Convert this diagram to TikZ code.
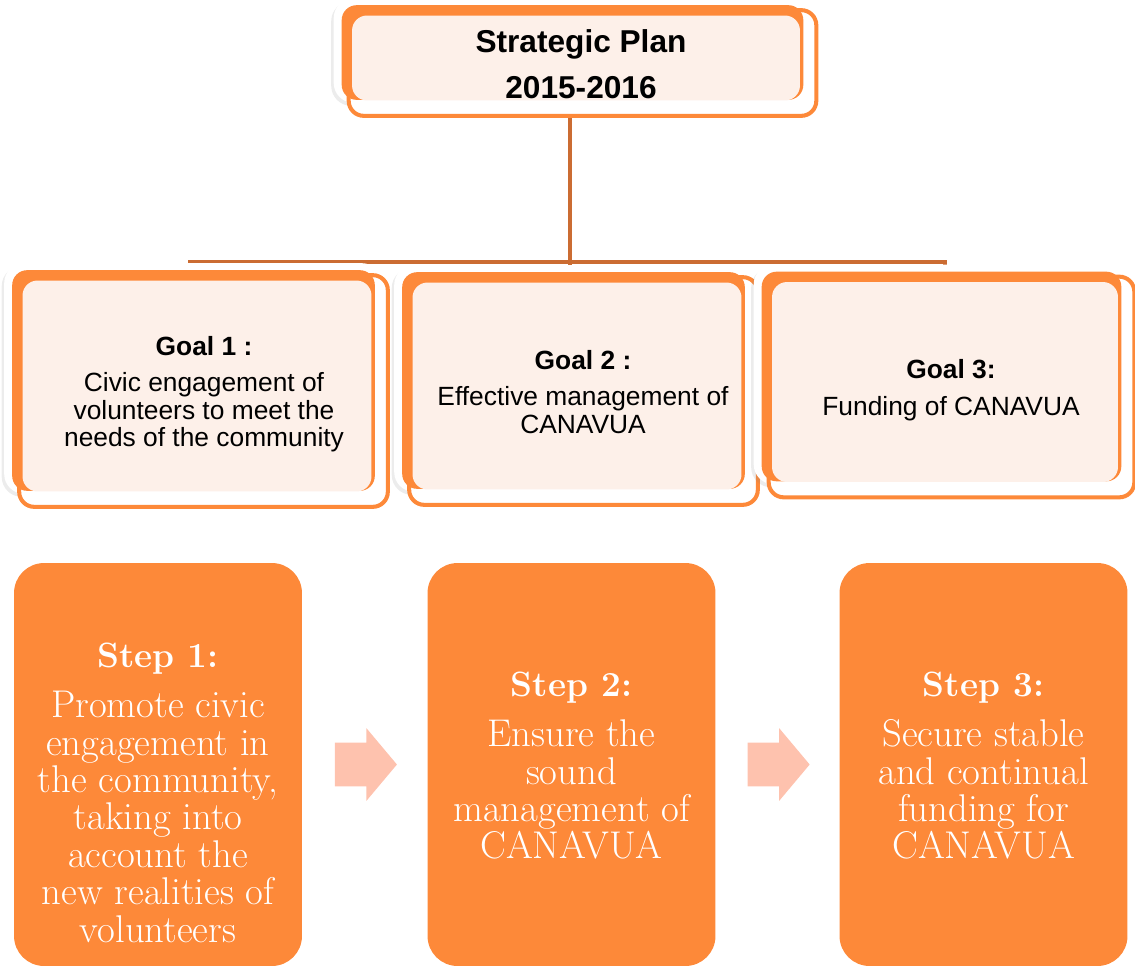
\documentclass[tikz,border=0pt]{standalone}
\usepackage{fontspec}
\newfontfamily\goalfont{Liberation Sans}
\usetikzlibrary{calc,shadows,shapes.arrows}
\definecolor{planorange}{RGB}{253,137,57}
\definecolor{planpeach}{RGB}{253,240,233}
\definecolor{linkbrown}{RGB}{203,108,50}
\definecolor{arrowpink}{RGB}{254,194,174}
\pgfdeclarelayer{background}
\pgfsetlayers{background,main}

% layered frame behind a card: white shadowed plate, outlined front, orange plate
\newcommand{\cardback}[1]{%
  \fill[white, rounded corners=0.4cm,
        drop shadow={shadow xshift=-0.05cm, shadow yshift=-0.06cm, opacity=0.15}]
    ($(#1.south west)+(-18,2)$) rectangle ($(#1.north east)+(10,-17)$);
  \filldraw[fill=white, draw=planorange, line width=2.3pt, rounded corners=0.3cm]
    ($(#1.south west)+(-3,15)$) rectangle ($(#1.north east)+(16,-5)$);
  \fill[planorange, rounded corners=0.3cm]
    ($(#1.south west)+(-10,-1)$) rectangle ($(#1.north east)+(3,-10)$);
}

\begin{document}
\begin{tikzpicture}[x=0.02cm, y=-0.02cm,
    card/.style={fill=planpeach, rounded corners=0.3cm, inner sep=0pt},
    goaltext/.style={align=center, inner sep=0pt, font=\goalfont\fontsize{15}{15.7}\selectfont},
    stepbox/.style={fill=planorange, rounded corners=0.6cm, minimum width=5.76cm, minimum height=8.06cm},
    steptext/.style={text=white, align=center, inner sep=0pt, font=\fontsize{22}{21.3}\selectfont},
    blockarrow/.style={single arrow, fill=arrowpink, inner xsep=0pt, inner ysep=0.43cm,
      minimum height=1.24cm, single arrow head extend=0.29cm, single arrow tip angle=100,
      xshift=-0.16cm},
    link/.style={draw=linkbrown, line width=2.3pt}]
  \useasboundingbox (0,0) rectangle (1135,967);

  % plan and goals
  \node[card, minimum width=8.96cm, minimum height=1.7cm] (plan) at (576,58) {};
  \node[card, minimum width=6.98cm, minimum height=4.22cm] (goal1) at (197,386) {};
  \node[card, minimum width=6.58cm, minimum height=4.14cm] (goal2) at (577,386) {};
  \node[card, minimum width=6.92cm, minimum height=4.0cm] (goal3) at (945,382) {};
  \node[goaltext, font=\goalfont\bfseries\fontsize{18}{26}\selectfont] (plantxt) at (581,64)
    {Strategic Plan\\2015-2016};
  \node[goaltext] (goal1txt) at (204,394)
    {\textbf{Goal 1 :}\\[5pt]Civic engagement of\\volunteers to meet the\\needs of the community};
  \node[goaltext] (goal2txt) at (583,392)
    {\textbf{Goal 2 :}\\[5pt]Effective management of\\CANAVUA};
  \node[goaltext] (goal3txt) at (951,390)
    {\textbf{Goal 3:}\\[5pt]Funding of CANAVUA};

  % tree lines and frames
  \coordinate (j1) at (190,262);
  \coordinate (j2) at (570,262);
  \coordinate (j3) at (945,262);
  \begin{pgfonlayer}{background}
    \draw[link] (plan.south -| j2) -- (j2);
    \draw[link] (j1 |- goal1.north) -- (j1) -- (j3) -- (j3 |- goal3.north);
    \draw[link] (j2) -- (j2 |- goal2.north);
    \cardback{plan}
    \cardback{goal1}
    \cardback{goal2}
    \cardback{goal3}
  \end{pgfonlayer}

  % steps
  \node[stepbox] (step1) at (158,764.5) {};
  \node[stepbox] (step2) at (571.5,764.5) {};
  \node[stepbox] (step3) at (983.5,764.5) {};
  \node[steptext] (step1txt) at (158,793)
    {{\fontsize{20}{21.3}\selectfont\bfseries Step 1:}\\[7pt]Promote civic\\engagement in\\the community,\\taking into\\account the\\new realities of\\volunteers};
  \node[steptext] (step2txt) at (571.5,766)
    {{\fontsize{20}{21.3}\selectfont\bfseries Step 2:}\\[7pt]Ensure the\\sound\\management of\\CANAVUA};
  \node[steptext] (step3txt) at (983.5,766)
    {{\fontsize{20}{21.3}\selectfont\bfseries Step 3:}\\[7pt]Secure stable\\and continual\\funding for\\CANAVUA};

  \node[blockarrow] (arrow1) at ($(step1.east)!0.5!(step2.west)$) {};
  \node[blockarrow] (arrow2) at ($(step2.east)!0.5!(step3.west)$) {};
\end{tikzpicture}
\end{document}
